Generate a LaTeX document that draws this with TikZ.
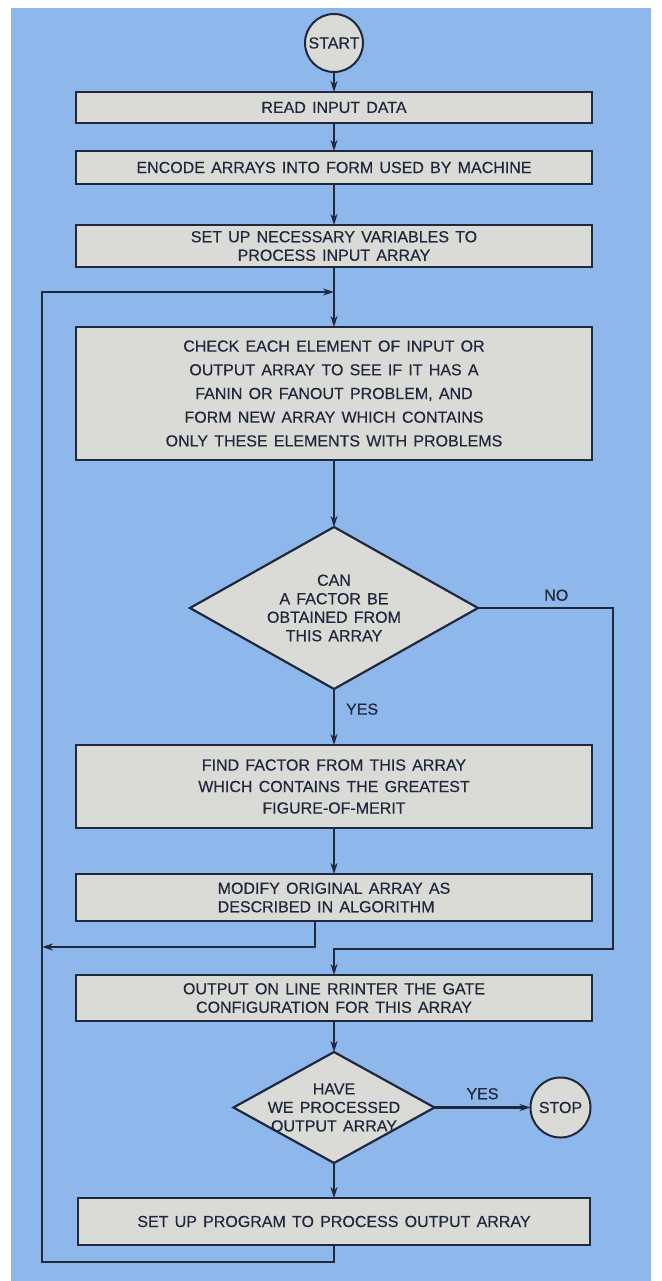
\documentclass[tikz,border=0pt]{standalone}
\usepackage{fontspec}
\setmainfont{Liberation Sans}[WordSpace=1.4, FakeBold=0.4]
\usepackage{tikz}
\usetikzlibrary{shapes.geometric, arrows.meta, positioning}
\definecolor{panelBlue}{RGB}{142, 184, 235}
\definecolor{boxGray}{RGB}{218, 218, 214}
\definecolor{inkDark}{RGB}{32, 40, 60}

\begin{document}
\begin{tikzpicture}[
    x=1pt, y=-1pt,
    font=\fontsize{16}{18.5}\selectfont,
    % Node styles
    process/.style={
        rectangle,
        draw=inkDark,
        line width=2.2pt,
        fill=boxGray,
        minimum width=516pt,
        inner sep=0pt,
        outer sep=0pt,
        align=center,
        text=inkDark
    },
    decision/.style={
        diamond,
        draw=inkDark,
        line width=2.2pt,
        fill=boxGray,
        inner sep=-25pt,
        outer sep=0pt,
        align=center,
        text=inkDark
    },
    terminal/.style={
        circle,
        draw=inkDark,
        line width=2pt,
        fill=boxGray,
        inner sep=0pt,
        outer sep=0pt,
        minimum size=58pt,
        text=inkDark
    },
    branch/.style={
        text=inkDark,
        inner sep=3pt
    },
    arrow/.style={
        -{Stealth[length=11pt, width=7pt]},
        line width=2.2pt,
        color=inkDark
    }
]

% Panel
\useasboundingbox (0,0) rectangle (661,1281);
\fill[white] (0,0) rectangle (661,1281);
\fill[panelBlue] (11,8) rectangle (651,1281);

% Main column
\node[terminal] (start) at (334,43) {START};
\node[process, minimum height=31pt, below=20pt of start] (read) {READ INPUT DATA};
\node[process, minimum height=33pt, below=28pt of read] (encode) {ENCODE ARRAYS INTO FORM USED BY MACHINE};
\node[process, minimum height=42pt, below=41pt of encode] (setup) {SET UP NECESSARY VARIABLES TO\\PROCESS INPUT ARRAY};
\node[process, minimum height=133pt, below=60pt of setup,
      font=\fontsize{16}{23.7}\selectfont] (check) {CHECK EACH ELEMENT OF INPUT OR\\OUTPUT ARRAY TO SEE IF IT HAS A\\FANIN OR FANOUT PROBLEM, AND\\FORM NEW ARRAY WHICH CONTAINS\\ONLY THESE ELEMENTS WITH PROBLEMS};
\node[decision, minimum width=288pt, minimum height=162pt, below=67pt of check] (canq) {CAN\\A FACTOR BE\\OBTAINED FROM\\THIS ARRAY};
\node[process, minimum height=83pt, below=56pt of canq,
      font=\fontsize{16}{21.5}\selectfont] (find) {FIND FACTOR FROM THIS ARRAY\\WHICH CONTAINS THE GREATEST\\FIGURE-OF-MERIT};
\node[process, minimum height=47pt, below=46pt of find, align=left] (modify) {MODIFY ORIGINAL ARRAY AS\\DESCRIBED IN ALGORITHM};
\node[process, minimum height=46pt, below=54pt of modify] (output) {OUTPUT ON LINE RRINTER THE GATE\\CONFIGURATION FOR THIS ARRAY};
\node[decision, minimum width=201pt, minimum height=111pt, below=31pt of output] (doneq) {HAVE\\WE PROCESSED\\OUTPUT ARRAY};
\node[process, minimum width=512pt, minimum height=47pt, below=35pt of doneq] (setprog) {SET UP PROGRAM TO PROCESS OUTPUT ARRAY};
\node[terminal, minimum size=60pt, right=96pt of doneq] (stop) {STOP};

% Corners of the return lines
\coordinate (loopIn) at (334,292);
\coordinate (retCorner) at (42,1262);
\coordinate (modCorner) at (42,947);
\coordinate (noCorner) at (613,949);

% Arrows
\draw[arrow] (start) -- (read);
\draw[arrow] (read) -- (encode);
\draw[arrow] (encode) -- (setup);
\draw[arrow] (setup) -- (check);
\draw[arrow] (check) -- (canq);
\draw[arrow] (canq) -- node[branch, right, pos=0.36, xshift=8pt] {YES} (find);
\draw[arrow] (find) -- (modify);
\draw[arrow] ([xshift=-19pt]modify.south) |- (modCorner);
\draw[arrow] (canq.east) -- node[branch, above, pos=0.58, yshift=3pt] {NO} (canq.east -| noCorner) -- (noCorner) -| (output.north);
\draw[arrow] (output) -- (doneq);
\draw[arrow] (doneq) -- node[branch, above, pos=0.5, yshift=4pt] {YES} (stop);
\draw[arrow] (doneq) -- (setprog);
\draw[arrow] (setprog.south) |- (retCorner) |- (loopIn);

\end{tikzpicture}
\end{document}
